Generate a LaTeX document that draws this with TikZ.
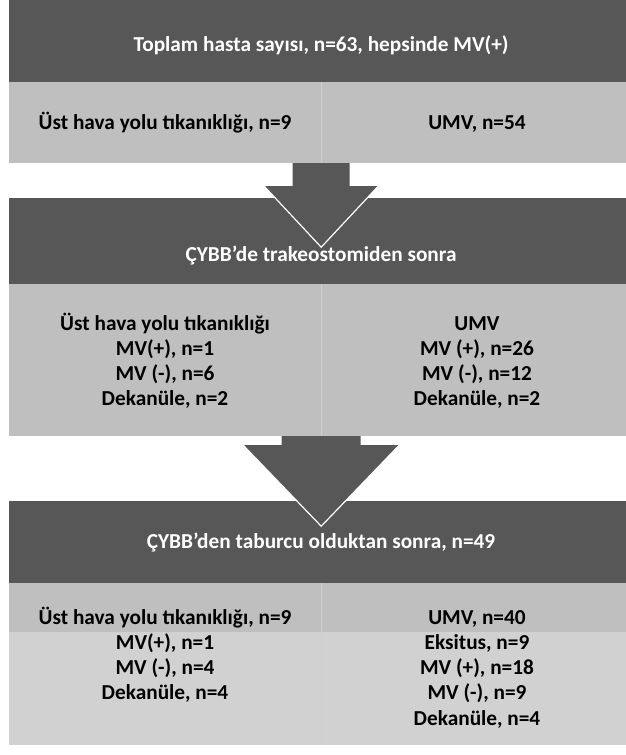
\documentclass[tikz,border=0pt]{standalone}
\usepackage{fontspec}
\setmainfont{Carlito}
\usepackage{tikz}
\usetikzlibrary{positioning,calc}
\definecolor{bandgray}{RGB}{87,87,87}
\definecolor{cellgray}{RGB}{191,191,191}
\definecolor{cellpale}{RGB}{209,209,209}
\definecolor{cellline}{RGB}{206,206,206}
\newcommand{\flowfont}{\bfseries\fontsize{21.3}{25.3}\selectfont}

\begin{document}
\begin{tikzpicture}[x=1pt,y=-1pt]
        \tikzset{
          BandStyle/.style={fill=bandgray, inner sep=0pt, minimum width=624pt},
          CellStyle/.style={fill=cellgray, inner sep=0pt, minimum width=312pt,
            text height=14pt, text depth=0pt, font=\flowfont},
          TitleStyle/.style={text=white, inner sep=0pt, text height=14pt,
            text depth=0pt, font=\flowfont},
          ListStyle/.style={inner sep=0pt, anchor=north, align=center, font=\flowfont},
          DividerStyle/.style={draw=cellline, line width=0.8pt},
          ArrowStyle/.style={fill=bandgray},
          TipStyle/.style={draw=white, line width=1.2pt}
        }
        \useasboundingbox (0,0) rectangle (626,755);
        \fill[white] (0,0) rectangle (626,755);
        \node[BandStyle, minimum height=82pt] (Total) at (321,41) {};
        \node[TitleStyle] (TotalText) at (321,44.5) {Toplam hasta sayısı, n=63, hepsinde MV(+)};
        \node[CellStyle, minimum height=81pt] (AirwayA) at (165,122.5) {Üst hava yolu tıkanıklığı, n=9};
        \node[CellStyle, minimum height=81pt] (UmvA) at (477,122.5) {UMV, n=54};
        \draw[DividerStyle] (AirwayA.north east) -- (AirwayA.south east);
        \node[BandStyle, minimum height=86pt] (Trach) at (321,241) {};
        \coordinate (ArrowA) at (AirwayA.south east);
        \fill[ArrowStyle] ($(ArrowA)+(-28.5,0)$) -- ++(0,23) -- ++(-28.5,0)
          -- ($(ArrowA)+(0,84)$) -- ($(ArrowA)+(57,23)$) -- ++(-28.5,0) -- ++(0,-23) -- cycle;
        \draw[TipStyle] ($(ArrowA)+(-57,23)$) -- ($(ArrowA)+(0,84)$) -- ($(ArrowA)+(57,23)$);
        \node[TitleStyle] (TrachText) at (321,254) {ÇYBB’de trakeostomiden sonra};
        \node[CellStyle, minimum height=152pt] (AirwayB) at (165,360) {};
        \node[CellStyle, minimum height=152pt] (UmvB) at (477,360) {};
        \draw[DividerStyle] (AirwayB.north east) -- (AirwayB.south east);
        \node[ListStyle] (AirwayBText) at (165,312.1)
          {\strut Üst hava yolu tıkanıklığı\\MV(+), n=1\\MV (-), n=6\\Dekanüle, n=2};
        \node[ListStyle] (UmvBText) at (477,312.1)
          {\strut UMV\\MV (+), n=26\\MV (-), n=12\\Dekanüle, n=2};
        \node[BandStyle, minimum height=82pt] (Discharge) at (321,542) {};
        \coordinate (ArrowB) at (AirwayB.south east);
        \fill[ArrowStyle] ($(ArrowB)+(-39.5,0)$) -- ++(0,9) -- ++(-38.5,0)
          -- ($(ArrowB)+(0,90)$) -- ($(ArrowB)+(78,9)$) -- ++(-38.5,0) -- ++(0,-9) -- cycle;
        \draw[TipStyle] ($(ArrowB)+(-78,9)$) -- ($(ArrowB)+(0,90)$) -- ($(ArrowB)+(78,9)$);
        \node[TitleStyle] (DischargeText) at (321,541.5) {ÇYBB’den taburcu olduktan sonra, n=49};
        \node[CellStyle, minimum height=49pt] (AirwayC) at (165,607.5) {};
        \node[CellStyle, minimum height=49pt] (UmvC) at (477,607.5) {};
        \node[CellStyle, fill=cellpale, minimum height=113pt] (AirwayD) at (165,688.5) {};
        \node[CellStyle, fill=cellpale, minimum height=113pt] (UmvD) at (477,688.5) {};
        \draw[DividerStyle] (AirwayC.north east) -- (AirwayD.south east);
        \node[ListStyle] (AirwayDText) at (165,606.1)
          {\strut Üst hava yolu tıkanıklığı, n=9\\MV(+), n=1\\MV (-), n=4\\Dekanüle, n=4};
        \node[ListStyle] (UmvDText) at (477,606.1)
          {\strut UMV, n=40\\Eksitus, n=9\\MV (+), n=18\\MV (-), n=9\\Dekanüle, n=4};
\end{tikzpicture}
\end{document}
